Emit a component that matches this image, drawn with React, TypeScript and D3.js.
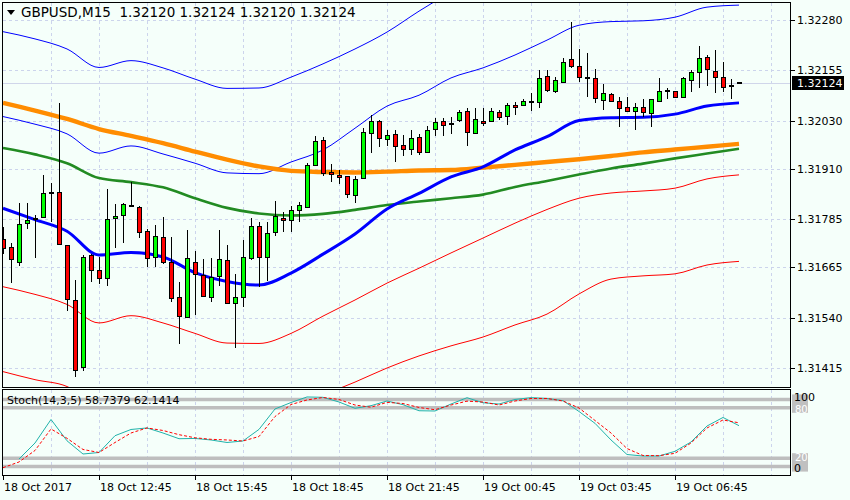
import React from "react";
import * as d3 from "d3";

// GBPUSD M15 candles (one per bar, oldest first)
const open = [
  1.31736, 1.31716, 1.31678, 1.31775, 1.31785, 1.3179, 1.31849, 1.31852, 1.31721, 1.31584,
  1.31417, 1.31696, 1.31659, 1.31639, 1.31788, 1.31795, 1.31818, 1.31815, 1.31755, 1.31691,
  1.31741, 1.31678, 1.31591, 1.31542, 1.31678, 1.31646, 1.31591, 1.31644, 1.31683, 1.31576,
  1.31591, 1.31688, 1.31768, 1.31691, 1.31753, 1.31788, 1.31783, 1.31808, 1.31815, 1.3192,
  1.31982, 1.31902, 1.31895, 1.31892, 1.31845, 1.31887, 1.31999, 1.32029, 1.31984, 1.31997,
  1.31969, 1.31959, 1.31989, 1.31952, 1.32009, 1.32029, 1.32021, 1.32031, 1.32054, 1.31999,
  1.32029, 1.32029, 1.32051, 1.32041, 1.32069, 1.32069, 1.32077, 1.32076, 1.32141, 1.32103,
  1.32126, 1.32183, 1.32166, 1.32136, 1.32136, 1.32081, 1.32096, 1.32079, 1.32064, 1.32054,
  1.32064, 1.32049, 1.32079, 1.32103, 1.32103, 1.32089, 1.32131, 1.32151, 1.32188, 1.32153,
  1.32138, 1.32116, 1.3212,
];
const high = [
  1.31765, 1.31726, 1.31825, 1.31825, 1.31795, 1.31895, 1.31875, 1.32074, 1.31721, 1.31634,
  1.31696, 1.31698, 1.31691, 1.3186, 1.31823, 1.31825, 1.31877, 1.31818, 1.3176, 1.3177,
  1.3179, 1.31741, 1.31629, 1.31758, 1.31706, 1.31686, 1.31688, 1.31758, 1.31721, 1.31648,
  1.31733, 1.31788, 1.31778, 1.31778, 1.3183, 1.31803, 1.31818, 1.31828, 1.31924, 1.31992,
  1.31989, 1.31922, 1.31907, 1.31892, 1.31892, 1.32011, 1.32044, 1.32031, 1.32006, 1.32006,
  1.31994, 1.32006, 1.31997, 1.32016, 1.32036, 1.32036, 1.32039, 1.32056, 1.32061, 1.32061,
  1.32061, 1.32061, 1.32056, 1.32074, 1.32076, 1.32084, 1.32098, 1.32156, 1.32156, 1.32139,
  1.32186, 1.32275, 1.32208, 1.32198, 1.32158, 1.32121, 1.32098, 1.32089, 1.32089, 1.32074,
  1.32084, 1.32084, 1.32136, 1.32111, 1.32103, 1.32139, 1.32156, 1.32215, 1.32193, 1.32205,
  1.32176, 1.32133, 1.32124,
];
const low = [
  1.31698, 1.31626, 1.31668, 1.3176, 1.31688, 1.31788, 1.31778, 1.31721, 1.31557, 1.31392,
  1.31407, 1.31629, 1.31624, 1.31619, 1.31713, 1.31726, 1.31817, 1.31738, 1.31666, 1.31666,
  1.31673, 1.31579, 1.31474, 1.31542, 1.31547, 1.31591, 1.31579, 1.31619, 1.31574, 1.31465,
  1.31566, 1.31683, 1.31616, 1.31631, 1.31743, 1.31753, 1.31753, 1.31778, 1.31815, 1.31917,
  1.31892, 1.31877, 1.31872, 1.31837, 1.31825, 1.31885, 1.31949, 1.31964, 1.31967, 1.31927,
  1.31942, 1.31944, 1.31944, 1.31949, 1.31992, 1.31992, 1.31997, 1.32026, 1.31967, 1.31997,
  1.32016, 1.32026, 1.32031, 1.32019, 1.32044, 1.32066, 1.32054, 1.32061, 1.32101, 1.32098,
  1.32123, 1.32161, 1.32126, 1.32089, 1.32074, 1.32056, 1.32076, 1.32014, 1.32054, 1.32007,
  1.32039, 1.32014, 1.32076, 1.32084, 1.32086, 1.32086, 1.32101, 1.32111, 1.32116, 1.32098,
  1.32101, 1.32084, 1.3212,
];
const close = [
  1.31713, 1.31686, 1.31773, 1.31783, 1.31785, 1.3185, 1.31849, 1.31723, 1.31586, 1.3141,
  1.31691, 1.31659, 1.31639, 1.31785, 1.31793, 1.31823, 1.31818, 1.31753, 1.31688, 1.31743,
  1.31678, 1.31589, 1.31544, 1.31688, 1.31648, 1.31594, 1.31641, 1.31686, 1.31576, 1.31591,
  1.31691, 1.31768, 1.31691, 1.3175, 1.31793, 1.31783, 1.31808, 1.3182, 1.3192, 1.31979,
  1.319, 1.31897, 1.3189, 1.31847, 1.31885, 1.32002, 1.32029, 1.31987, 1.31994, 1.31967,
  1.31959, 1.31987, 1.31952, 1.32006, 1.32026, 1.32019, 1.32021, 1.32051, 1.32002, 1.32034,
  1.32024, 1.32054, 1.32039, 1.32069, 1.32064, 1.32079, 1.32077, 1.32136, 1.32106, 1.32131,
  1.32176, 1.32166, 1.32138, 1.32136, 1.32086, 1.32098, 1.32079, 1.32061, 1.32055, 1.32064,
  1.32051, 1.32084, 1.32103, 1.32103, 1.32089, 1.32136, 1.32151, 1.32186, 1.32158, 1.32138,
  1.32113, 1.32116, 1.32124,
];

// indicator lines, read every 4th bar
const lineBars = [0, 4, 8, 12, 16, 20, 24, 28, 32, 36, 40, 44, 48, 52, 56, 60, 64, 68, 72, 76, 80, 84, 88, 92];
const upperOuter = [
  1.32251, 1.32233, 1.32208, 1.32162, 1.32179, 1.32161, 1.32133, 1.3211, 1.32111, 1.32138, 1.32171, 1.32208,
  1.3225, 1.32302, 1.3235, null, null, null, null, null, null, null, null, null,
];
const upperInner = [
  1.3204, 1.32021, 1.31997, 1.31949, 1.31967, 1.31947, 1.31924, 1.319, 1.31898, 1.31927, 1.31957, 1.32011,
  1.32066, 1.32093, 1.32136, 1.32161, 1.32193, 1.3223, 1.32267, 1.32276, 1.32278, 1.32287, 1.32312, 1.32317,
];
const middle = [
  1.31812, 1.31784, 1.31755, 1.31696, 1.31702, 1.31691, 1.31652, 1.3163, 1.31621, 1.31651, 1.31698, 1.31748,
  1.3181, 1.31849, 1.3189, 1.31915, 1.31957, 1.3199, 1.3203, 1.32037, 1.32038, 1.32046, 1.32066, 1.32074,
];
const lowerInner = [
  1.31617, 1.31598, 1.31573, 1.31527, 1.31545, 1.31527, 1.31501, 1.31477, 1.31476, 1.31501, 1.31544, 1.31584,
  1.31626, 1.31663, 1.31701, 1.31738, 1.31775, 1.31809, 1.31837, 1.3185, 1.31855, 1.31862, 1.31885, 1.31895,
];
const lowerOuter = [
  1.31406, 1.31386, 1.31369, 1.3131, null, null, null, null, null, null, 1.31348, 1.3138,
  1.31415, 1.31445, 1.3147, 1.31492, 1.31522, 1.31549, 1.31599, 1.31636, 1.31644, 1.31649, 1.31671, 1.3168,
];
const orangeMa = [
  1.32074, 1.32055, 1.32034, 1.32009, 1.31992, 1.31974, 1.31953, 1.31933, 1.31916, 1.31905, 1.31902, 1.31901,
  1.31903, 1.31906, 1.31907, 1.31913, 1.3192, 1.31927, 1.31934, 1.31942, 1.31951, 1.31958, 1.31965, 1.31972,
];
const greenMa = [
  1.31962, 1.31946, 1.31924, 1.31887, 1.31877, 1.31864, 1.31837, 1.31813, 1.31799, 1.31794, 1.31798, 1.31808,
  1.3182, 1.31829, 1.31837, 1.31846, 1.31865, 1.3188, 1.31896, 1.31911, 1.31923, 1.31936, 1.31948, 1.3196,
];

// stochastic, read every 2nd bar
const stochBars = [
  0, 2, 4, 6, 8, 10, 12, 14, 16, 18, 20, 22, 24, 26, 28, 30, 32, 34, 36, 38, 40, 42, 44, 46,
  48, 50, 52, 54, 56, 58, 60, 62, 64, 66, 68, 70, 72, 74, 76, 78, 80, 82, 84, 86, 88, 90, 92,
];
const stochMain = [
  null, 19.0, 38.1, 66.1, 40.7, 25.0, 26.8, 46.8, 54.2, 56.0, 50.0, 43.2, 43.5, 41.7, 38.7, 40.5,
  54.3, 78.6, 86.3, 92.9, 92.5, 86.9, 79.4, 82.5, 88.1, 83.7, 76.5, 76.2, 84.5, 92.0, 86.0, 84.5,
  89.9, 92.1, 91.1, 88.5, 75.6, 61.5, 41.7, 24.4, 22.6, 22.6, 28.2, 39.3, 58.3, 68.5, 58.74,
];
const stochSignal = [
  8.7, 15.5, 29.2, 54.8, 43.7, 30.4, 26.8, 38.7, 50.0, 56.0, 53.0, 48.0, 44.3, 42.5, 41.7, 40.5,
  45.8, 69.6, 83.9, 89.3, 92.3, 89.9, 83.3, 80.7, 86.5, 85.1, 80.4, 77.7, 83.3, 87.9, 86.9, 83.3,
  88.1, 91.1, 91.1, 88.1, 79.8, 64.9, 50.0, 31.5, 23.2, 23.0, 25.8, 38.1, 56.0, 65.5, 62.14,
];
const stochLevels = [90, 80, 20, 10];
const stochLevelLabels = [80, 20];

const priceTicks = ["1.32280", "1.32155", "1.32030", "1.31910", "1.31785", "1.31665", "1.31540", "1.31415"];
const timeTickBars = [0, 12, 24, 36, 48, 60, 72, 84];
const timeLabels = [
  "18 Oct 2017", "18 Oct 12:45", "18 Oct 15:45", "18 Oct 18:45",
  "18 Oct 21:45", "19 Oct 00:45", "19 Oct 03:45", "19 Oct 06:45",
];
const lastPrice = 1.32124;

const font = "DejaVu Sans, Verdana, sans-serif";
const bg = "#F5FFFA";
const gridColor = "#CCD4EC";

const App: React.FC = () => {
  const paneL = 2.5;
  const paneR = 790.5;
  const mainTop = 2.5;
  const mainBottom = 387.5;
  const stTop = 389.5;
  const stBottom = 475.5;

  const x = d3.scaleLinear().domain([0, 92]).range([3, 739]);
  const y = d3.scaleLinear().domain([1.31415, 1.3228]).range([368, 20]);
  const ys = d3.scaleLinear().domain([0, 100]).range([475, 391]);

  const bandLine = (vals: (number | null)[]) =>
    d3
      .line<number | null>()
      .defined((v) => v != null)
      .x((_, k) => x(lineBars[k]))
      .y((v) => y(v as number))
      .curve(d3.curveMonotoneX)(vals) || "";

  const stochLine = (vals: (number | null)[]) =>
    d3
      .line<number | null>()
      .defined((v) => v != null)
      .x((_, k) => x(stochBars[k]))
      .y((v) => ys(v as number))(vals) || "";

  // vertical grid every 6 bars (1.5 h)
  const gridBars = d3.range(6, 97, 6);

  return (
    <div style={{ position: "absolute", left: 0, top: 0, width: 850, height: 500 }}>
      <svg width={850} height={500} style={{ display: "block", fontFamily: font }}>
        <defs>
          <clipPath id="mainClip">
            <rect x={paneL} y={mainTop} width={paneR - paneL} height={mainBottom - mainTop} />
          </clipPath>
          <clipPath id="stClip">
            <rect x={paneL} y={stTop} width={paneR - paneL} height={stBottom - stTop} />
          </clipPath>
        </defs>
        <rect x={0} y={0} width={850} height={500} fill={bg} />

        {/* grid */}
        <g stroke={gridColor} strokeDasharray="3,3" shapeRendering="crispEdges">
          {gridBars.map((b) => (
            <g key={b}>
              <line x1={x(b) + 0.5} x2={x(b) + 0.5} y1={mainTop} y2={mainBottom} />
              <line x1={x(b) + 0.5} x2={x(b) + 0.5} y1={stTop} y2={stBottom} />
            </g>
          ))}
          {priceTicks.map((t) => (
            <line key={t} x1={paneL} x2={paneR} y1={Math.round(y(+t)) + 0.5} y2={Math.round(y(+t)) + 0.5} />
          ))}
        </g>

        {/* bid line */}
        <line
          x1={paneL}
          x2={paneR}
          y1={Math.round(y(lastPrice)) + 0.5}
          y2={Math.round(y(lastPrice)) + 0.5}
          stroke="#D0D6EA"
          shapeRendering="crispEdges"
        />

        <g clipPath="url(#mainClip)" fill="none">
          <path d={bandLine(upperOuter)} stroke="#0000FF" strokeWidth={1} />
          <path d={bandLine(upperInner)} stroke="#0000FF" strokeWidth={1} />
          <path d={bandLine(lowerInner)} stroke="#FF0000" strokeWidth={1} />
          <path d={bandLine(lowerOuter)} stroke="#FF0000" strokeWidth={1} />
          <path d={bandLine(greenMa)} stroke="#228B22" strokeWidth={2.6} />
          <path d={bandLine(orangeMa)} stroke="#FF8C00" strokeWidth={4.4} />
          <path d={bandLine(middle)} stroke="#0000FF" strokeWidth={3} />

          {/* candles */}
          <g shapeRendering="crispEdges">
            {open.map((o, i) => {
              const cx = Math.round(x(i));
              const yo = y(o);
              const yc = y(close[i]);
              const top = Math.min(yo, yc);
              const bot = Math.max(yo, yc);
              const flat = bot - top < 1.8;
              return (
                <g key={i}>
                  <line x1={cx + 0.5} x2={cx + 0.5} y1={y(high[i])} y2={y(low[i])} stroke="#000" />
                  {flat ? (
                    <rect x={cx - 2} y={Math.round(yc) - 1} width={5} height={2} fill="#000" />
                  ) : (
                    <rect
                      x={cx - 1.5}
                      y={Math.round(top) + 0.5}
                      width={4}
                      height={Math.round(bot) - Math.round(top)}
                      fill={close[i] > o ? "#00FF00" : "#FF0000"}
                      stroke="#000"
                    />
                  )}
                </g>
              );
            })}
          </g>
        </g>

        {/* stochastic pane */}
        <g clipPath="url(#stClip)">
          {stochLevels.map((l) => (
            <line key={l} x1={paneL} x2={paneR} y1={ys(l)} y2={ys(l)} stroke="#BEBEBE" strokeWidth={3.5} />
          ))}
          <path d={stochLine(stochMain)} fill="none" stroke="#20B2AA" strokeWidth={1} />
          <path d={stochLine(stochSignal)} fill="none" stroke="#FF0000" strokeWidth={1} strokeDasharray="3,2" />
        </g>

        {/* frames */}
        <g fill="none" stroke="#000" shapeRendering="crispEdges">
          <rect x={paneL} y={mainTop} width={paneR - paneL} height={mainBottom - mainTop} />
          <rect x={paneL} y={stTop} width={paneR - paneL} height={stBottom - stTop} />
        </g>

        {/* price axis */}
        <g fontSize={11} fill="#000">
          {priceTicks.map((t) => {
            const py = Math.round(y(+t)) + 0.5;
            return (
              <g key={t}>
                <line x1={paneR} x2={paneR + 4} y1={py} y2={py} stroke="#000" shapeRendering="crispEdges" />
                <text x={797} y={py} dominantBaseline="central">
                  {t}
                </text>
              </g>
            );
          })}
        </g>
        <rect x={792} y={Math.round(y(lastPrice)) - 7} width={52} height={14} fill="#000" />
        <text x={797} y={Math.round(y(lastPrice))} dominantBaseline="central" fontSize={11} fill="#fff">
          {lastPrice.toFixed(5)}
        </text>

        {/* stochastic scale */}
        <g fontSize={10}>
          {stochLevels.map((l) => (
            <rect key={l} x={792} y={ys(l) - 5} width={16} height={10} fill="#C0C0C0" />
          ))}
          {stochLevelLabels.map((l) => (
            <text key={l} x={795} y={ys(l) + (l > 50 ? 1.5 : -1)} dominantBaseline="central" fill="#fff">
              {l}
            </text>
          ))}
          <text x={794} y={397} dominantBaseline="central" fill="#000" fontSize={11}>
            100
          </text>
          <text x={794} y={468} dominantBaseline="central" fill="#000" fontSize={11}>
            0
          </text>
        </g>

        {/* time axis */}
        <g fontSize={11} fill="#000">
          {timeTickBars.map((b, k) => (
            <g key={b}>
              <line
                x1={x(b) + 0.5}
                x2={x(b) + 0.5}
                y1={stBottom}
                y2={stBottom + 4}
                stroke="#000"
                shapeRendering="crispEdges"
              />
              <text x={x(b) + 1} y={491}>
                {timeLabels[k]}
              </text>
            </g>
          ))}
        </g>

        {/* titles */}
        <path d="M7,10 L15,10 L11,15 Z" fill="#000" />
        <text x={21} y={16.5} fontSize={13.5} fill="#000" style={{ whiteSpace: "pre" }}>
          {"GBPUSD,M15  1.32120 1.32124 1.32120 1.32124"}
        </text>
        <text x={7} y={404} fontSize={11} fill="#000">
          Stoch(14,3,5) 58.7379 62.1414
        </text>
      </svg>
    </div>
  );
};

export default App;
